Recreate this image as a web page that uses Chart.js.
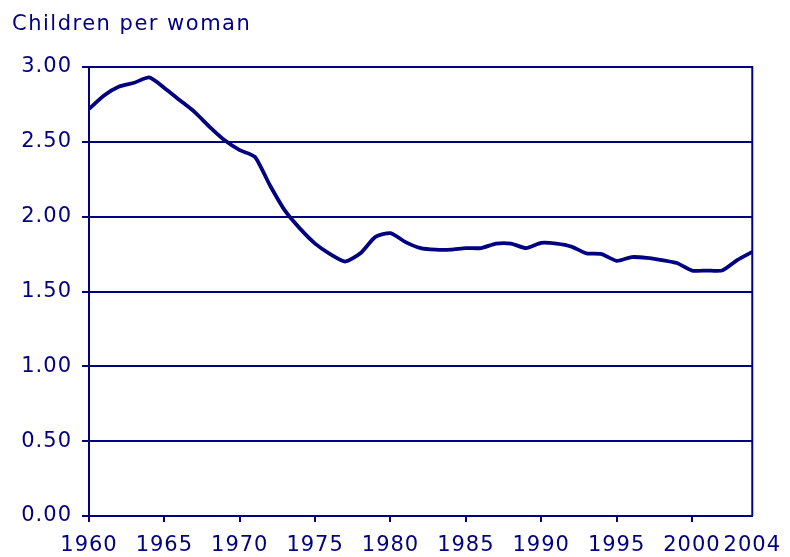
<!DOCTYPE html>
<html>
<head>
<meta charset="utf-8">
<script src="https://cdn.jsdelivr.net/npm/chart.js@4"></script>
<style>
html,body{margin:0;padding:0;background:#fff;}
#wrap{position:relative;width:790px;height:557px;}
</style>
</head>
<body>
<div id="wrap"><canvas id="c" width="790" height="557"></canvas></div>
<script>
const titleText = "Children per woman";
const years = [1960,1961,1962,1963,1964,1965,1966,1967,1968,1969,
  1970,1971,1972,1973,1974,1975,1976,1977,1978,1979,
  1980,1981,1982,1983,1984,1985,1986,1987,1988,1989,
  1990,1991,1992,1993,1994,1995,1996,1997,1998,1999,
  2000,2001,2002,2003,2004];
const fertility = [2.72,2.81,2.87,2.895,2.93,2.86,2.78,2.70,2.60,2.51,
  2.445,2.40,2.21,2.04,1.92,1.82,1.75,1.70,1.755,1.865,
  1.89,1.83,1.79,1.78,1.78,1.79,1.79,1.82,1.82,1.79,
  1.825,1.82,1.80,1.755,1.75,1.705,1.73,1.725,1.71,1.69,
  1.64,1.64,1.64,1.71,1.765];
const xTickYears = [1960,1965,1970,1975,1980,1985,1990,1995,2000,2004];
const yTicks = [0,0.5,1,1.5,2,2.5,3];

const NAVY = '#000080';
const FONT = '"DejaVu Sans", Verdana, sans-serif';

const frame = {
  id: 'frame',
  beforeDraw(chart) {
    chart.ctx.letterSpacing = '1px';
  },
  afterDraw(chart) {
    const ctx = chart.ctx, a = chart.chartArea;
    ctx.save();
    ctx.strokeStyle = NAVY;
    ctx.lineWidth = 2;
    ctx.beginPath();
    ctx.moveTo(a.right, a.top - 1);
    ctx.lineTo(a.right, a.bottom);
    ctx.stroke();
    ctx.fillStyle = NAVY;
    ctx.letterSpacing = '1.5px';
    ctx.font = '21px ' + FONT;
    ctx.textBaseline = 'alphabetic';
    ctx.textAlign = 'left';
    ctx.fillText(titleText, 12, 30);
    ctx.restore();
  }
};

new Chart(document.getElementById('c'), {
  type: 'line',
  data: {
    datasets: [{
      data: years.map((y, i) => ({x: y, y: fertility[i]})),
      borderColor: NAVY,
      borderWidth: 3.8,
      pointRadius: 0,
      tension: 0.2,
      fill: false
    }]
  },
  options: {
    responsive: false,
    animation: false,
    layout: {padding: {top: 67, right: 36, left: 0, bottom: 0}},
    plugins: {legend: {display: false}, tooltip: {enabled: false}},
    scales: {
      x: {
        type: 'linear',
        min: 1960, max: 2004,
        afterBuildTicks: s => { s.ticks = xTickYears.map(v => ({value: v})); },
        afterFit: s => { s.height = 41; },
        grid: {display: true, drawOnChartArea: false, drawTicks: true, tickLength: 6,
               color: c => (c.tick && c.tick.value === 2004) ? 'rgba(0,0,0,0)' : NAVY, lineWidth: 2},
        border: {display: true, color: NAVY, width: 2},
        ticks: {color: NAVY, font: {family: FONT, size: 21}, padding: 11, maxRotation: 0, autoSkip: false, callback: v => String(v)}
      },
      y: {
        min: 0, max: 3,
        afterBuildTicks: s => { s.ticks = yTicks.map(v => ({value: v})); },
        afterFit: s => { s.width = 89; },
        grid: {display: true, drawOnChartArea: true, drawTicks: true, tickLength: 7, color: NAVY, lineWidth: 2},
        border: {display: true, color: NAVY, width: 2},
        ticks: {color: NAVY, font: {family: FONT, size: 21}, padding: 10, callback: v => Number(v).toFixed(2)}
      }
    }
  },
  plugins: [frame]
});
</script>
</body>
</html>
